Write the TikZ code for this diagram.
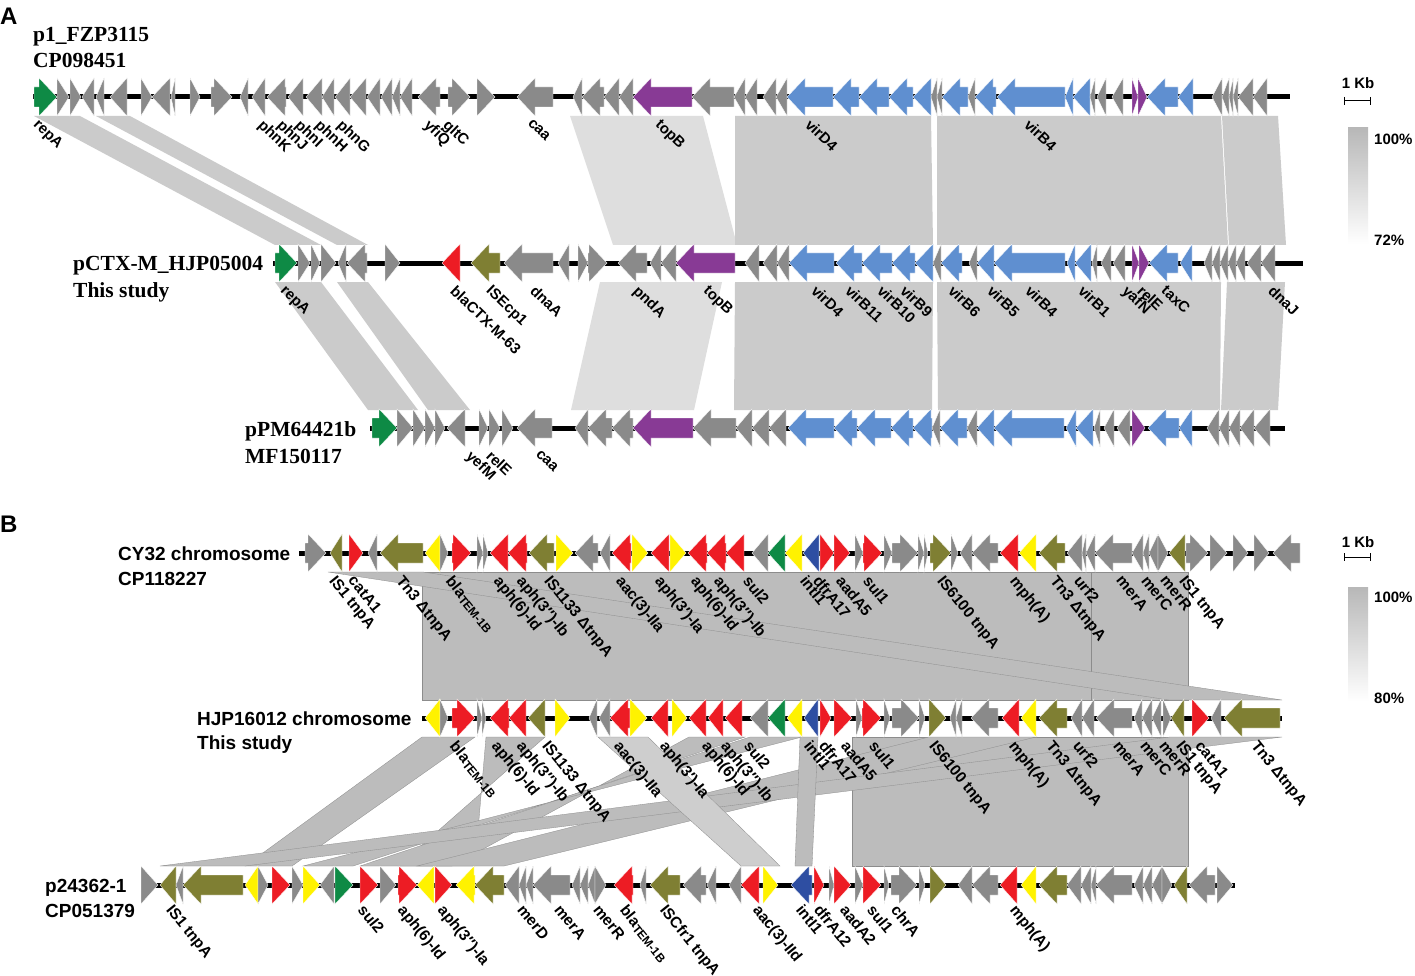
\documentclass[tikz,border=0pt]{standalone}
\usepackage{fontspec}
\setmainfont{Liberation Sans}
\newfontfamily\tnr{Liberation Serif}
\definecolor{cgray}{HTML}{8A8A8A}
\definecolor{cgreen}{HTML}{0E8A45}
\definecolor{cpurple}{HTML}{883A95}
\definecolor{cblue}{HTML}{5F8FD0}
\definecolor{cred}{HTML}{ED1C24}
\definecolor{cyellow}{HTML}{FFF200}
\definecolor{colive}{HTML}{7F7F33}
\definecolor{cdblue}{HTML}{2E4EA2}
\definecolor{bandA}{HTML}{CBCBCB}
\definecolor{bandAl}{HTML}{DEDEDE}
\definecolor{bandB}{HTML}{BCBCBC}
\definecolor{bandBl}{HTML}{CECECE}
\def\ry{97}
\def\ly{118}
\newcommand\gr[3]{%
 \pgfmathsetmacro\gH{min(#2-#1,18)}\pgfmathsetmacro\gM{#2-\gH}%
 \fill[#3,draw=white,line width=0.35pt] (#1,\ry-10) -- (\gM,\ry-10) -- (\gM,\ry-19) -- (#2,\ry) -- (\gM,\ry+19) -- (\gM,\ry+10) -- (#1,\ry+10) -- cycle;}
\newcommand\gl[3]{%
 \pgfmathsetmacro\gH{min(#2-#1,18)}\pgfmathsetmacro\gM{#1+\gH}%
 \fill[#3,draw=white,line width=0.35pt] (#2,\ry-10) -- (\gM,\ry-10) -- (\gM,\ry-19) -- (#1,\ry) -- (\gM,\ry+19) -- (\gM,\ry+10) -- (#2,\ry+10) -- cycle;}
\newcommand\seqline[3]{\def\ry{#1}\draw[line width=5pt] (#2,#1) -- (#3,#1);}
\newcommand\la[2]{\node[lblA] at (#1,\ly) {#2};}
\newcommand\lb[2]{\node[lblB] at (#1,\ly) {#2};}
\newcommand\tem{bla\raisebox{-2pt}{\fontsize{12}{12}\selectfont TEM-1B}}
\tikzset{
 lblA/.style={anchor=north west,rotate=-44,inner sep=0pt,font=\fontsize{15}{15}\selectfont\bfseries},
 lblB/.style={anchor=north west,rotate=-51,inner sep=0pt,font=\fontsize{15.5}{15.5}\selectfont\bfseries},
 nameA/.style={anchor=base west,inner sep=0pt,font=\tnr\fontsize{21.5}{22}\selectfont\bfseries},
 nameB/.style={anchor=base west,inner sep=0pt,font=\fontsize{19}{20}\selectfont\bfseries},
 leg/.style={anchor=west,inner sep=0pt,font=\fontsize{15}{15}\selectfont\bfseries},
 bA/.style={fill=bandA},
 bAl/.style={fill=bandAl},
 bB/.style={fill=bandB,draw=black!45,line width=0.3pt},
 bBl/.style={fill=bandBl,draw=black!45,line width=0.3pt},
}
\begin{document}
\begin{tikzpicture}[x=1pt,y=-1pt]
\useasboundingbox[fill=white] (0,0) rectangle (1415,976);
% panel letters
\node[anchor=base west,inner sep=0pt,font=\fontsize{24}{24}\selectfont\bfseries] (pA) at (0,25) {A};
\node[anchor=base west,inner sep=0pt,font=\fontsize{24}{24}\selectfont\bfseries] (pB) at (0,532) {B};
% ---------------- bands A
\fill[bA] (34,116) -- (80,116) -- (321,245) -- (275,245) -- cycle;
\fill[bA] (96,116) -- (130,116) -- (368,245) -- (337,245) -- cycle;
\fill[bAl] (570,116) -- (703,116) -- (737,245) -- (613,245) -- cycle;
\fill[bA] (735,116) -- (931,116) -- (933,245) -- (735,245) -- cycle;
\fill[bA] (937,116) -- (1221,116) -- (1228,245) -- (937,245) -- cycle;
\fill[bA] (1222,116) -- (1278,116) -- (1286,245) -- (1229,245) -- cycle;
\fill[bA] (275,282) -- (321,282) -- (418,410) -- (368,410) -- cycle;
\fill[bA] (337,282) -- (368,282) -- (470,410) -- (428,410) -- cycle;
\fill[bAl] (600,282) -- (722,282) -- (694,410) -- (571,410) -- cycle;
\fill[bA] (735,282) -- (933,282) -- (932,410) -- (734,410) -- cycle;
\fill[bA] (937,282) -- (1221,282) -- (1220,410) -- (938,410) -- cycle;
\fill[bA] (1227,282) -- (1285,282) -- (1278,410) -- (1221,410) -- cycle;
% ---------------- bands B
\filldraw[bB] (422,572) -- (1091,572) -- (1091,700) -- (422,700) -- cycle;
\filldraw[bB] (1091,572) -- (1188,572) -- (1188,700) -- (1091,700) -- cycle;
\filldraw[bB] (328,572) -- (423,572) -- (1282,700) -- (1169,700) -- cycle;
\filldraw[bB] (852,737) -- (1188,737) -- (1188,866) -- (852,866) -- cycle;
\filldraw[bB] (422,737) -- (475,737) -- (292,866) -- (245,866) -- cycle;
\filldraw[bB] (486,737) -- (545,737) -- (398,866) -- (475,866) -- cycle;
\filldraw[bB] (689,737) -- (745,737) -- (360,866) -- (452,866) -- cycle;
\filldraw[bB] (750,737) -- (802,737) -- (303,866) -- (353,866) -- cycle;
\filldraw[bB] (929,737) -- (1036,737) -- (504,866) -- (417,866) -- cycle;
\filldraw[bB] (1170,737) -- (1282,737) -- (245,866) -- (160,866) -- cycle;
\filldraw[bBl] (598,737) -- (648,737) -- (780,866) -- (741,866) -- cycle;
\filldraw[bB] (800,737) -- (818,737) -- (812,866) -- (795,866) -- cycle;
% ---------------- row A1
\node[nameA] (nA1a) at (33,42) {p1\_FZP3115};
\node[nameA] (nA1b) at (33,68) {CP098451};
\seqline{97}{33}{1290}
\gr{34}{57}{cgreen}\gr{57}{69}{cgray}\gr{70}{81}{cgray}\gl{82}{94}{cgray}\gl{96}{104}{cgray}\gl{110}{127}{cgray}
\gr{141}{152}{cgray}\gl{152}{170}{cgray}\gl{171}{175}{cgray}\gr{190}{200}{cgray}\gr{211}{232}{cgray}
\gl{240}{248}{cgray}\gl{252}{265}{cgray}\gl{267}{286}{cgray}\gl{288}{303}{cgray}\gl{306}{322}{cgray}
\gl{322}{334}{cgray}\gl{335}{350}{cgray}\gl{350}{366}{cgray}\gl{367}{380}{cgray}\gl{381}{392}{cgray}
\gl{392}{400}{cgray}\gl{400}{412}{cgray}\gl{418}{440}{cgray}\gr{448}{470}{cgray}\gr{477}{495}{cgray}
\gl{517}{553}{cgray}\gl{573}{582}{cgray}\gl{582}{604}{cgray}\gl{604}{619}{cgray}\gl{619}{633}{cgray}
\gl{633}{692}{cpurple}\gl{692}{734}{cgray}\gl{734}{745}{cgray}\gl{745}{757}{cgray}\gl{763}{776}{cgray}
\gl{776}{787}{cgray}\gl{787}{833}{cblue}\gl{833}{859}{cblue}\gl{859}{889}{cblue}\gl{889}{913}{cblue}
\gl{913}{931}{cblue}\gl{931}{937}{cgray}\gl{937}{942}{cgray}\gl{942}{968}{cblue}\gl{968}{975}{cgray}
\gl{975}{996}{cblue}\gl{997}{1065}{cblue}\gl{1065}{1073}{cblue}\gl{1073}{1090}{cblue}\gl{1090}{1095}{cgray}
\gl{1097}{1106}{cgray}\gl{1112}{1123}{cgray}\gr{1132}{1138}{cpurple}\gr{1138}{1147}{cpurple}
\gl{1147}{1178}{cblue}\gl{1178}{1193}{cblue}\gl{1212}{1222}{cgray}\gl{1222}{1229}{cgray}
\gl{1229}{1233}{cgray}\gl{1233}{1238}{cgray}\gl{1238}{1253}{cgray}\gl{1253}{1267}{cgray}
\def\ly{118}
\la{40}{repA}\la{265}{phnK}\la{284}{phnJ}\la{302}{phnI}\la{322}{phnH}\la{344}{phnG}
\la{431}{yfiQ}\la{450}{gltC}\la{533}{caa}\la{662}{topB}\la{812}{virD4}\la{1031}{virB4}
% ---------------- row A2
\node[nameA] (nA2a) at (73,270) {pCTX-M\_HJP05004};
\node[nameA] (nA2b) at (73,297) {This study};
\seqline{263}{273}{1303}
\gr{275}{297}{cgreen}\gr{298}{310}{cgray}\gr{311}{320}{cgray}\gr{321}{336}{cgray}\gl{338}{346}{cgray}
\gl{347}{367}{cgray}\gr{385}{400}{cgray}\gl{442}{460}{cred}\gl{471}{500}{colive}\gl{504}{553}{cgray}
\gl{558}{569}{cgray}\gr{578}{588}{cgray}\gr{588}{607}{cgray}\gl{618}{647}{cgray}\gl{650}{661}{cgray}
\gl{661}{676}{cgray}\gl{676}{735}{cpurple}\gl{745}{759}{cgray}\gl{763}{777}{cgray}\gl{777}{789}{cgray}
\gl{789}{834}{cblue}\gl{836}{862}{cblue}\gl{862}{892}{cblue}\gl{892}{915}{cblue}\gl{915}{933}{cblue}
\gl{933}{941}{cgray}\gl{941}{962}{cblue}\gl{969}{977}{cgray}\gl{977}{994}{cblue}\gl{994}{1065}{cblue}
\gl{1067}{1075}{cblue}\gl{1075}{1091}{cblue}\gl{1092}{1097}{cgray}\gl{1101}{1111}{cgray}\gl{1113}{1125}{cgray}
\gr{1132}{1139}{cpurple}\gr{1139}{1149}{cpurple}\gl{1149}{1178}{cblue}\gl{1180}{1192}{cblue}
\gl{1204}{1212}{cgray}\gl{1212}{1220}{cgray}\gl{1220}{1228}{cgray}\gl{1228}{1236}{cgray}
\gl{1236}{1245}{cgray}\gl{1247}{1261}{cgray}\gl{1261}{1275}{cgray}
\def\ly{284}
\la{287}{repA}\la{457}{blaCTX-M-63}\la{493}{ISEcp1}\la{537}{dnaA}\la{640}{pndA}\la{710}{topB}
\la{818}{virD4}\la{852}{virB11}\la{884}{virB10}\la{907}{virB9}\la{955}{virB6}\la{994}{virB5}
\la{1032}{virB4}\la{1085}{virB1}\la{1129}{yafN}\la{1144}{relE}\la{1168}{taxC}\la{1275}{dnaJ}
% ---------------- row A3
\node[nameA] (nA3a) at (245,436) {pPM64421b};
\node[nameA] (nA3b) at (245,463) {MF150117};
\seqline{428}{370}{1285}
\gr{372}{397}{cgreen}\gr{397}{413}{cgray}\gr{413}{425}{cgray}\gr{425}{435}{cgray}\gr{435}{445}{cgray}
\gl{447}{465}{cgray}\gr{479}{488}{cgray}\gr{489}{500}{cgray}\gr{502}{513}{cgray}\gl{517}{552}{cgray}
\gl{575}{588}{cgray}\gl{588}{612}{cgray}\gl{612}{633}{cgray}\gl{633}{693}{cpurple}\gl{693}{736}{cgray}
\gl{736}{752}{cgray}\gl{752}{769}{cgray}\gl{769}{786}{cgray}\gl{788}{834}{cblue}\gl{834}{857}{cblue}
\gl{857}{891}{cblue}\gl{891}{913}{cblue}\gl{913}{932}{cblue}\gl{932}{940}{cgray}\gl{940}{967}{cblue}
\gl{967}{977}{cgray}\gl{977}{994}{cblue}\gl{994}{1064}{cblue}\gl{1066}{1076}{cblue}\gl{1076}{1093}{cblue}
\gl{1094}{1100}{cgray}\gl{1104}{1114}{cgray}\gl{1117}{1130}{cgray}\gr{1132}{1145}{cpurple}
\gl{1148}{1179}{cblue}\gl{1179}{1192}{cblue}\gl{1207}{1219}{cgray}\gl{1219}{1229}{cgray}
\gl{1229}{1240}{cgray}\gl{1240}{1254}{cgray}\gl{1254}{1270}{cgray}
\def\ly{449}
\la{473}{yefM}\la{493}{relE}\la{541}{caa}
% ---------------- row B1
\node[nameB] (nB1a) at (118,560) {CY32 chromosome};
\node[nameB] (nB1b) at (118,585) {CP118227};
\seqline{553}{299}{1300}
\gr{305}{326}{cgray}\gl{330}{342}{colive}\gr{349}{363}{cred}\gl{368}{377}{cgray}\gl{380}{423}{colive}
\gl{425}{440}{cyellow}\gr{440}{448}{cgray}\gr{452}{471}{cred}\gr{477}{483}{cgray}\gr{483}{488}{cgray}
\gl{490}{508}{cred}\gl{508}{527}{cred}\gl{529}{554}{colive}\gr{556}{573}{cyellow}\gl{575}{598}{cgray}
\gl{600}{610}{cgray}\gl{612}{631}{cred}\gr{632}{648}{cyellow}\gl{651}{669}{cred}\gr{670}{686}{cyellow}
\gl{688}{707}{cred}\gl{707}{726}{cred}\gl{726}{744}{cred}\gl{752}{768}{cgray}\gl{768}{785}{cgreen}
\gl{785}{802}{cyellow}\gl{803}{819}{cdblue}\gr{820}{834}{cred}\gr{834}{850}{cred}\gr{855}{863}{cgray}
\gr{863}{882}{cred}\gr{884}{892}{cgray}\gr{892}{918}{cgray}\gr{918}{924}{cgray}\gr{924}{928}{cgray}
\gr{930}{951}{colive}\gr{951}{958}{cgray}\gl{960}{972}{cgray}\gl{972}{998}{cgray}\gl{1000}{1018}{cred}
\gl{1019}{1036}{cyellow}\gl{1039}{1065}{colive}\gl{1067}{1082}{cgray}\gl{1082}{1086}{cgray}
\gl{1086}{1095}{cgray}\gl{1095}{1132}{cgray}\gl{1132}{1143}{cgray}\gl{1143}{1149}{cgray}
\gl{1149}{1158}{cgray}\gr{1158}{1168}{cgray}\gl{1169}{1185}{colive}\gr{1186}{1208}{cgray}
\gr{1210}{1227}{cgray}\gr{1233}{1248}{cgray}\gr{1254}{1269}{cgray}\gl{1273}{1300}{cgray}
\def\ly{574}
\lb{337}{IS1 tnpA}\lb{356}{catA1}\lb{404}{Tn3 ΔtnpA}\lb{454}{\tem}\lb{502}{aph(6)-Id}
\lb{525}{aph(3″)-Ib}\lb{552}{IS1133 ΔtnpA}\lb{624}{aac(3)-IIa}\lb{663}{aph(3′)-Ia}
\lb{699}{aph(6)-Id}\lb{722}{aph(3″)-Ib}\lb{751}{sul2}\lb{808}{intI1}\lb{821}{dfrA17}
\lb{844}{aadA5}\lb{871}{sul1}\lb{945}{IS6100 tnpA}\lb{1018}{mph(A)}\lb{1058}{Tn3 ΔtnpA}
\lb{1082}{urf2}\lb{1124}{merA}\lb{1149}{merC}\lb{1168}{merR}\lb{1187}{IS1 tnpA}
% ---------------- row B2
\node[nameB] (nB2a) at (197,725) {HJP16012 chromosome};
\node[nameB] (nB2b) at (197,749) {This study};
\seqline{718}{422}{1282}
\gl{425}{440}{cyellow}\gr{440}{448}{cgray}\gr{452}{475}{cred}\gr{477}{482}{cgray}\gr{482}{486}{cgray}
\gl{490}{509}{cred}\gl{509}{526}{cred}\gl{528}{545}{colive}\gr{555}{570}{cyellow}\gl{589}{597}{cgray}
\gl{599}{610}{cgray}\gl{610}{630}{cred}\gr{630}{647}{cyellow}\gl{651}{668}{cred}\gr{672}{687}{cyellow}
\gl{689}{706}{cred}\gl{708}{723}{cred}\gl{725}{742}{cred}\gl{750}{768}{cgray}\gl{768}{785}{cgreen}
\gl{787}{802}{cyellow}\gl{804}{818}{cdblue}\gr{820}{831}{cred}\gr{834}{852}{cred}\gr{856}{862}{cgray}
\gr{862}{881}{cred}\gr{884}{890}{cgray}\gr{892}{919}{cgray}\gr{919}{925}{cgray}\gr{929}{946}{colive}
\gl{950}{956}{cgray}\gl{956}{962}{cgray}\gl{971}{998}{cgray}\gl{1002}{1019}{cred}\gl{1021}{1036}{cyellow}
\gl{1039}{1067}{colive}\gl{1071}{1082}{cgray}\gl{1082}{1094}{cgray}\gl{1096}{1132}{cgray}
\gl{1134}{1142}{cgray}\gl{1142}{1152}{cgray}\gl{1152}{1161}{cgray}\gr{1163}{1171}{cgray}
\gl{1171}{1184}{colive}\gr{1192}{1209}{cred}\gl{1211}{1221}{cgray}\gl{1224}{1280}{colive}
\def\ly{739}
\lb{458}{\tem}\lb{500}{aph(6)-Id}\lb{525}{aph(3″)-Ib}\lb{550}{IS1133 ΔtnpA}\lb{622}{aac(3)-IIa}
\lb{668}{aph(3′)-Ia}\lb{710}{aph(6)-Id}\lb{729}{aph(3″)-Ib}\lb{752}{sul2}\lb{812}{intI1}
\lb{827}{dfrA17}\lb{849}{aadA5}\lb{877}{sul1}\lb{937}{IS6100 tnpA}\lb{1017}{mph(A)}
\lb{1054}{Tn3 ΔtnpA}\lb{1081}{urf2}\lb{1121}{merA}\lb{1148}{merC}\lb{1167}{merR}
\lb{1184}{IS1 tnpA}\lb{1203}{catA1}\lb{1259}{Tn3 ΔtnpA}
% ---------------- row B3
\node[nameB] (nB3a) at (45,892) {p24362-1};
\node[nameB] (nB3b) at (45,917) {CP051379};
\seqline{885}{141}{1235}
\gr{141}{158}{cgray}\gl{160}{176}{colive}\gl{176}{183}{cgray}\gl{183}{243}{colive}\gl{245}{258}{cyellow}
\gr{258}{268}{cgray}\gr{272}{290}{cred}\gr{292}{303}{cgray}\gr{303}{320}{cyellow}\gl{320}{334}{cgray}
\gr{335}{353}{cgreen}\gr{360}{378}{cred}\gr{380}{396}{cgray}\gr{398}{417}{cred}\gl{417}{434}{cyellow}
\gr{435}{452}{cred}\gl{456}{475}{cyellow}\gl{475}{504}{colive}\gl{505}{519}{cgray}\gl{519}{526}{cgray}
\gl{526}{533}{cgray}\gl{533}{570}{cgray}\gl{572}{580}{cgray}\gl{580}{588}{cgray}\gl{588}{595}{cgray}
\gr{595}{606}{cgray}\gl{614}{633}{cred}\gl{640}{646}{cgray}\gl{650}{680}{colive}\gl{683}{706}{cgray}
\gl{707}{716}{cgray}\gl{729}{741}{cgray}\gl{741}{759}{cred}\gr{763}{778}{cyellow}\gl{791}{812}{cdblue}
\gr{814}{824}{cred}\gr{829}{834}{cgray}\gr{834}{851}{cred}\gr{855}{863}{cgray}\gr{863}{881}{cred}
\gr{884}{889}{cgray}\gr{891}{917}{cgray}\gr{919}{925}{cgray}\gr{930}{946}{colive}\gl{958}{972}{cgray}
\gl{972}{998}{cgray}\gl{1000}{1017}{cred}\gl{1021}{1036}{cyellow}\gl{1039}{1067}{colive}
\gl{1067}{1081}{cgray}\gl{1081}{1091}{cgray}\gl{1091}{1096}{cgray}\gl{1096}{1132}{cgray}
\gl{1134}{1143}{cgray}\gl{1143}{1152}{cgray}\gl{1152}{1162}{cgray}\gr{1162}{1172}{cgray}
\gl{1174}{1187}{colive}\gl{1189}{1215}{cgray}\gr{1217}{1233}{cgray}
\def\ly{903}
\lb{174}{IS1 tnpA}\lb{366}{sul2}\lb{406}{aph(6)-Id}\lb{446}{aph(3″)-Ia}\lb{525}{merD}
\lb{562}{merA}\lb{601}{merR}\lb{628}{\tem}\lb{668}{ISCfr1 tnpA}\lb{761}{aac(3)-IId}
\lb{804}{intI1}\lb{822}{dfrA12}\lb{848}{aadA2}\lb{875}{sul1}\lb{899}{chrA}\lb{1018}{mph(A)}
% ---------------- legends
\node[anchor=base,inner sep=0pt,font=\fontsize{15}{15}\selectfont\bfseries] (kbA) at (1358,89) {1 Kb};
\draw[line width=1pt] (1344,101) -- (1370,101) (1344,97) -- (1344,105) (1370,97) -- (1370,105);
\shade[top color=black!28,bottom color=white] (1348,128) rectangle (1368,244);
\node[leg] (hA) at (1374,139) {100\%};
\node[leg] (lA) at (1374,240) {72\%};
\node[anchor=base,inner sep=0pt,font=\fontsize{15}{15}\selectfont\bfseries] (kbB) at (1358,547) {1 Kb};
\draw[line width=1pt] (1344,557) -- (1370,557) (1344,553) -- (1344,561) (1370,553) -- (1370,561);
\shade[top color=black!28,bottom color=white] (1348,587) rectangle (1368,701);
\node[leg] (hB) at (1374,597) {100\%};
\node[leg] (lB) at (1374,698) {80\%};
\end{tikzpicture}
\end{document}
